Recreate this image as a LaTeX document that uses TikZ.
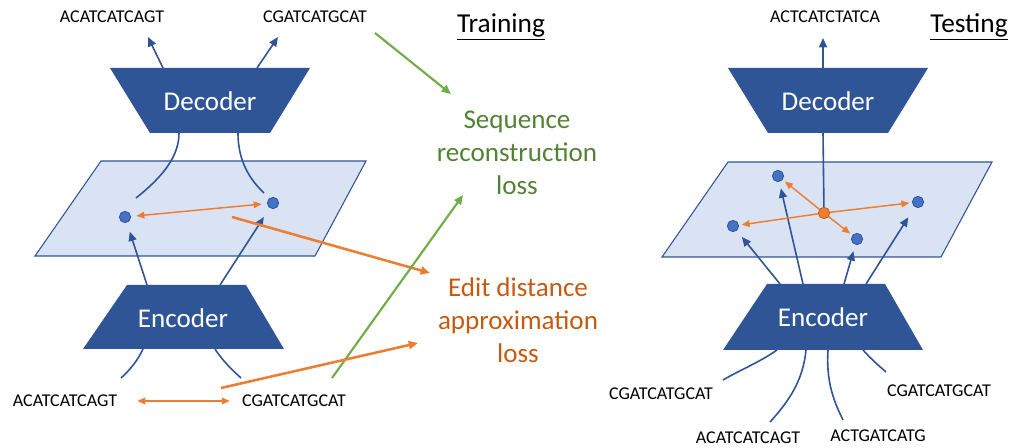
\documentclass[tikz,border=0pt]{standalone}
\usepackage{fontspec}
\setmainfont{Carlito}
\usetikzlibrary{arrows.meta}

\definecolor{darkblue}{HTML}{2F5597}
\definecolor{dotblue}{HTML}{4472C4}
\definecolor{planeblue}{HTML}{DAE3F3}
\definecolor{orng}{HTML}{ED7D31}
\definecolor{orngtext}{HTML}{C55A11}
\definecolor{grn}{HTML}{70AD47}
\definecolor{grntext}{HTML}{548235}

\tikzset{
	coder/.style={text=white,font=\fontsize{20.3}{24}\selectfont},
	seq/.style={font=\fontsize{13.5}{15}\selectfont,inner sep=1pt},
	loss/.style={align=center,font=\fontsize{20.3}{24.75}\selectfont},
	dot/.style={circle,fill=dotblue,draw=darkblue,line width=0.6pt,inner sep=0pt,minimum size=8.5pt},
	conn/.style={darkblue,line width=1.2pt},
	dist/.style={orng,line width=1.1pt,>={Triangle[length=6pt,width=5pt]}},
	bigorng/.style={orng,line width=1.9pt},
	biggrn/.style={grn,line width=1.6pt}
}

\begin{document}
\begin{tikzpicture}[x=0.75pt,y=-0.75pt,>={Triangle[length=7pt,width=6pt]}]

\useasboundingbox (0,0) rectangle (1013,448);

%training: latent planes and coders
\filldraw[fill=planeblue,draw=darkblue,line width=0.8pt] (101,161) -- (366,161) -- (315,256) -- (35,256) -- cycle;
\fill[darkblue] (110,68) -- (310,68) -- (270,133) -- (150,133) -- cycle;
\fill[darkblue] (127,285) -- (246,285) -- (284,349) -- (83,349) -- cycle;
\node[coder](decL) at (210,101){Decoder};
\node[coder](encL) at (183,318){Encoder};

%testing: latent planes and coders
\filldraw[fill=planeblue,draw=darkblue,line width=0.8pt] (728,162) -- (992,162) -- (941,257) -- (662,257) -- cycle;
\fill[darkblue] (728,68) -- (928,68) -- (888,133) -- (768,133) -- cycle;
\fill[darkblue] (767,284) -- (885,284) -- (923,350) -- (723,350) -- cycle;
\node[coder](decR) at (828,101){Decoder};
\node[coder](encR) at (823,317){Encoder};

%ports on the coders
\coordinate (decLin1) at (179,133);
\coordinate (decLin2) at (238,133);
\coordinate (decLout1) at (163,68);
\coordinate (decLout2) at (257,68);
\coordinate (encLout1) at (147,285);
\coordinate (encLout2) at (220,285);
\coordinate (encLin1) at (143,349);
\coordinate (encLin2) at (215,349);
\coordinate (decRin) at (823,133);
\coordinate (decRout) at (823,68);
\foreach \x [count=\i] in {780,803,844,866}
{
	\coordinate (encRout\i) at (\x,284);
}
\foreach \x [count=\i] in {777,806,828,863}
{
	\coordinate (encRin\i) at (\x,350);
}

%latent points
\node[dot](zL1) at (125,217){};
\node[dot](zL2) at (273,203){};
\node[dot](zR1) at (778,176){};
\node[dot](zR2) at (918,202){};
\node[dot](zR3) at (733,226){};
\node[dot](zR4) at (857,239){};
\node[dot,fill=orng,draw=orngtext](zRc) at (824,213){};

%sequences
\node[seq](outL1) at (112,17){ACATCATCAGT};
\node[seq](outL2) at (315,17){CGATCATGCAT};
\node[seq](inL1) at (65,401){ACATCATCAGT};
\node[seq](inL2) at (294,401){CGATCATGCAT};
\node[seq](outR) at (825,17){ACTCATCTATCA};
\node[seq](inR1) at (661,394){CGATCATGCAT};
\node[seq](inR2) at (748,438){ACATCATCAGT};
\node[seq](inR3) at (878,436){ACTGATCATG};
\node[seq](inR4) at (939,391){CGATCATGCAT};

%headings and losses
\node[font=\fontsize{20.5}{24}\selectfont](train) at (501,27){\underline{Training}};
\node[font=\fontsize{20.5}{24}\selectfont](test) at (969,27){\underline{Testing}};
\node[loss,text=grntext](recloss) at (517,153){Sequence\\reconstruction\\loss};
\node[loss,text=orngtext](edloss) at (518,320){Edit distance\\approximation\\loss};

%free ends
\coordinate (tipL1) at (148,37);
\coordinate (tipL2) at (278,37);
\coordinate (tipR) at (823,38);
\coordinate (tailL1) at (121,378);
\coordinate (tailL2) at (241,378);
\coordinate (tailR1) at (723,380);
\coordinate (tailR2) at (770,422);
\coordinate (tailR3) at (843,420);
\coordinate (tailR4) at (886,372);
\coordinate (recA) at (375,33);
\coordinate (recB) at (451,94);
\coordinate (recC) at (332,378);
\coordinate (recD) at (463,195);
\coordinate (edA) at (232,217);
\coordinate (edB) at (430,273);
\coordinate (edC) at (221,388);
\coordinate (edD) at (418,343);

%training connectors
\draw[conn] (zL1) ++(11,-19) .. controls (165,175) and (179,155) .. (decLin1);
\draw[conn] (zL2) ++(-9,-10) .. controls (245,175) and (238,155) .. (decLin2);
\draw[->,conn] (decLout1) -- (tipL1);
\draw[->,conn] (decLout2) -- (tipL2);
\draw[->,conn,shorten >=7pt] (encLout1) -- (zL1);
\draw[->,conn,shorten >=8pt] (encLout2) -- (zL2);
\draw[conn] (encLin1) .. controls (138,360) and (130,370) .. (tailL1);
\draw[conn] (encLin2) .. controls (222,360) and (232,370) .. (tailL2);
\draw[<->,dist,shorten >=4pt,shorten <=4pt] (zL1) -- (zL2);
\draw[<->,dist,shorten <=14pt,shorten >=8pt] (inL1) -- (inL2);

%losses
\draw[->,bigorng] (edA) -- (edB);
\draw[->,biggrn] (recC) -- (recD);
\draw[->,bigorng] (edC) -- (edD);
\draw[->,biggrn] (recA) -- (recB);

%testing connectors
\draw[->,conn] (decRout) -- (tipR);
\draw[conn] (decRin) -- (zRc);
\draw[->,conn,shorten >=6pt] (encRout1) -- (zR3);
\draw[->,conn,shorten >=5pt] (encRout2) -- (zR1);
\draw[->,conn,shorten >=5pt] (encRout3) -- (zR4);
\draw[->,conn,shorten >=9pt] (encRout4) -- (zR2);
\draw[conn] (encRin1) .. controls (760,362) and (740,370) .. (tailR1);
\draw[conn] (encRin2) .. controls (803,380) and (790,400) .. (tailR2);
\draw[conn] (encRin3) .. controls (826,380) and (833,400) .. (tailR3);
\draw[conn] (encRin4) .. controls (870,358) and (878,365) .. (tailR4);
\foreach \z in {zR1,zR2,zR3,zR4}
{
	\draw[->,dist,shorten >=2pt] (zRc) -- (\z);
}

\end{tikzpicture}
\end{document}
